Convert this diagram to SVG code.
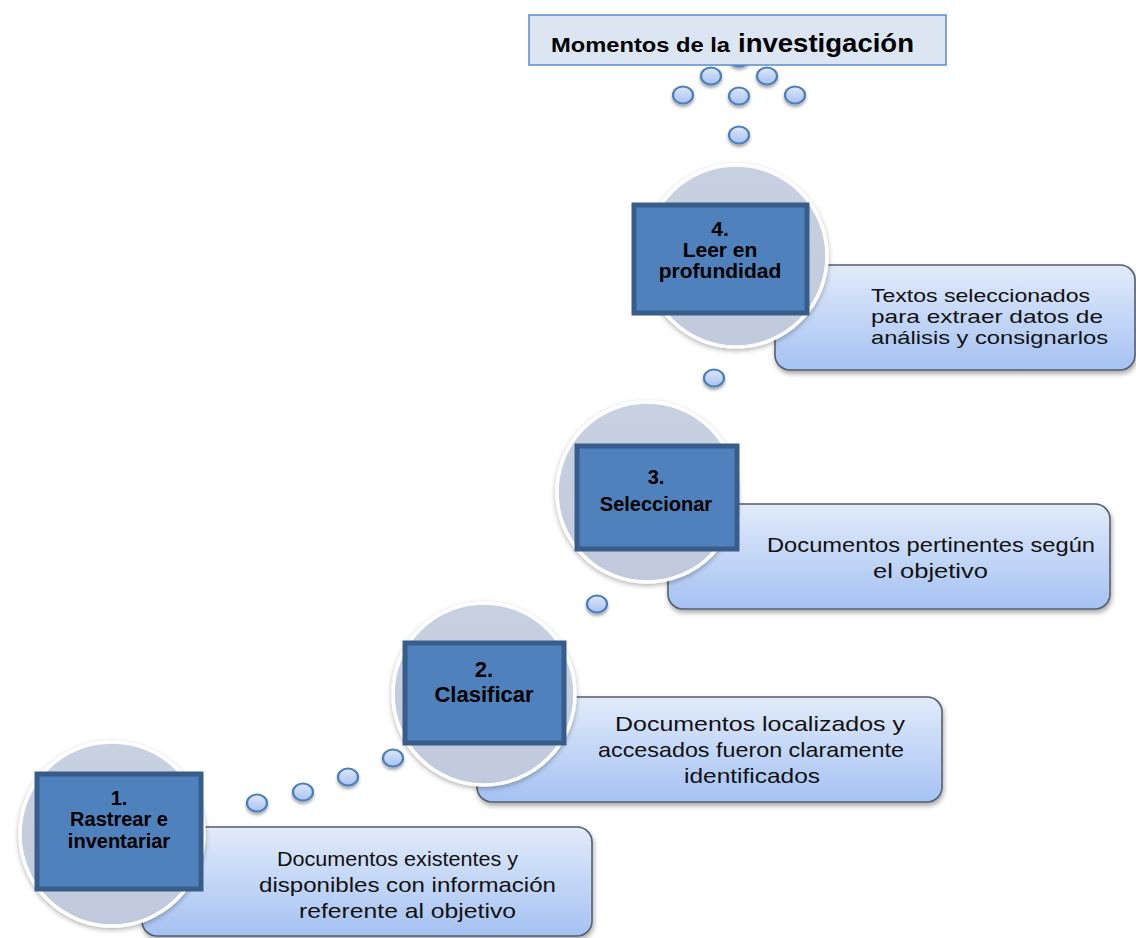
<svg xmlns="http://www.w3.org/2000/svg" width="1136" height="938" viewBox="0 0 1136 938">
<style>
.circ{fill:url(#gCirc);stroke:#ffffff;stroke-width:3.5;filter:url(#shCirc)}
.sq{fill:#4f81bd;stroke:#385d8a;stroke-width:5}
.sqt{font-family:"Liberation Sans",Arial,sans-serif;font-weight:bold;fill:#000;text-anchor:middle}
.box{fill:url(#gBox);stroke:#555f6e;stroke-width:1.6;filter:url(#shBox)}
.bt{font-family:"Liberation Sans",Arial,sans-serif;font-size:21px;fill:#111}
.bt4{font-family:"Liberation Sans",Arial,sans-serif;font-size:18.5px;fill:#111}
.dot{fill:url(#gDot);stroke:#4a7ebb;stroke-width:2.2;filter:url(#shDot)}
</style>
<defs>
<linearGradient id="gBox" x1="0" y1="0" x2="0" y2="1">
<stop offset="0" stop-color="#e2ebfa"/>
<stop offset="1" stop-color="#a5c2f3"/>
</linearGradient>
<linearGradient id="gCirc" x1="0" y1="0" x2="0" y2="1">
<stop offset="0" stop-color="#c8d1e1"/>
<stop offset="1" stop-color="#c0cadc"/>
</linearGradient>
<linearGradient id="gDot" x1="0" y1="0" x2="0" y2="1">
<stop offset="0" stop-color="#dde7fb"/>
<stop offset="1" stop-color="#a7c2f2"/>
</linearGradient>
<filter id="shBox" x="-10%" y="-10%" width="120%" height="130%">
<feDropShadow dx="1" dy="3" stdDeviation="2.5" flood-color="#000" flood-opacity="0.35"/>
</filter>
<filter id="shCirc" x="-10%" y="-10%" width="120%" height="125%">
<feDropShadow dx="0" dy="2" stdDeviation="2.5" flood-color="#000" flood-opacity="0.3"/>
</filter>
<filter id="shDot" x="-40%" y="-40%" width="180%" height="200%">
<feDropShadow dx="0" dy="2.5" stdDeviation="1.5" flood-color="#000" flood-opacity="0.35"/>
</filter>
</defs>
<rect width="1136" height="938" fill="#ffffff"/>

<g id="connectors">
<ellipse class="dot" cx="739" cy="58" rx="10" ry="8.5"/>
<ellipse class="dot" cx="711" cy="76" rx="10" ry="8.5"/>
<ellipse class="dot" cx="767" cy="76" rx="10" ry="8.5"/>
<ellipse class="dot" cx="683" cy="95" rx="10" ry="8.5"/>
<ellipse class="dot" cx="739" cy="96" rx="10" ry="8.5"/>
<ellipse class="dot" cx="795" cy="95" rx="10" ry="8.5"/>
<ellipse class="dot" cx="739" cy="135" rx="10" ry="8.5"/>
<ellipse class="dot" cx="714" cy="378" rx="10" ry="8.5"/>
<ellipse class="dot" cx="597" cy="604" rx="10" ry="8.5"/>
<ellipse class="dot" cx="257" cy="803" rx="10" ry="8.5"/>
<ellipse class="dot" cx="303" cy="792" rx="10" ry="8.5"/>
<ellipse class="dot" cx="348" cy="777" rx="10" ry="8.5"/>
<ellipse class="dot" cx="393" cy="758" rx="10" ry="8.5"/>
</g>

<g id="title">
<rect x="529" y="15" width="417" height="50" fill="#dce6f2" stroke="#5b8cc8" stroke-width="1.5"/>
<text y="52" font-family="'Liberation Sans',Arial,sans-serif" font-weight="bold" fill="#000"><tspan x="551" font-size="21" textLength="179" lengthAdjust="spacingAndGlyphs">Momentos de la</tspan><tspan x="738" font-size="26" textLength="176" lengthAdjust="spacingAndGlyphs">investigación</tspan></text>
</g>

<g id="step4">
<rect class="box" x="775" y="265" width="360" height="105" rx="15"/>
<circle class="circ" cx="736" cy="256" r="91"/>
<rect class="sq" x="634" y="205" width="173" height="108"/>
<text class="sqt" font-size="21"><tspan x="720" y="236">4.</tspan><tspan x="720" y="257">Leer en</tspan><tspan x="720" y="278">profundidad</tspan></text>
<text class="bt4"><tspan x="871" y="302" textLength="219" lengthAdjust="spacingAndGlyphs">Textos seleccionados</tspan><tspan x="871" y="323" textLength="232" lengthAdjust="spacingAndGlyphs">para extraer  datos de</tspan><tspan x="871" y="344" textLength="237" lengthAdjust="spacingAndGlyphs">análisis  y consignarlos</tspan></text>
</g>

<g id="step3">
<rect class="box" x="668" y="504" width="442" height="105" rx="15"/>
<circle class="circ" cx="647" cy="492" r="90"/>
<rect class="sq" x="577" y="446" width="160" height="103"/>
<text class="sqt" font-size="20"><tspan x="656" y="484">3.</tspan><tspan x="656" y="511">Seleccionar</tspan></text>
<text class="bt"><tspan x="767" y="552" textLength="328" lengthAdjust="spacingAndGlyphs">Documentos pertinentes según</tspan><tspan x="873" y="578" textLength="115" lengthAdjust="spacingAndGlyphs">el objetivo</tspan></text>
</g>

<g id="step2">
<rect class="box" x="477" y="697" width="465" height="105" rx="15"/>
<circle class="circ" cx="484" cy="694" r="91"/>
<rect class="sq" x="405" y="643" width="159" height="100"/>
<text class="sqt" font-size="22"><tspan x="484" y="677">2.</tspan><tspan x="484" y="702">Clasificar</tspan></text>
<text class="bt"><tspan x="615" y="731" textLength="290" lengthAdjust="spacingAndGlyphs">Documentos localizados  y</tspan><tspan x="598" y="757" textLength="306" lengthAdjust="spacingAndGlyphs">accesados fueron claramente</tspan><tspan x="684" y="783" textLength="136" lengthAdjust="spacingAndGlyphs">identificados</tspan></text>
</g>

<g id="step1">
<rect class="box" x="142" y="827" width="450" height="109" rx="15"/>
<circle class="circ" cx="112" cy="834" r="92"/>
<rect class="sq" x="37" y="774" width="164" height="115"/>
<text class="sqt" font-size="20"><tspan x="119" y="805">1.</tspan><tspan x="119" y="826">Rastrear e</tspan><tspan x="119" y="848">inventariar</tspan></text>
<text class="bt"><tspan x="277" y="866" textLength="241" lengthAdjust="spacingAndGlyphs">Documentos existentes  y</tspan><tspan x="259" y="892" textLength="297" lengthAdjust="spacingAndGlyphs">disponibles con información</tspan><tspan x="299" y="918" textLength="217" lengthAdjust="spacingAndGlyphs">referente al objetivo</tspan></text>
</g>
</svg>
